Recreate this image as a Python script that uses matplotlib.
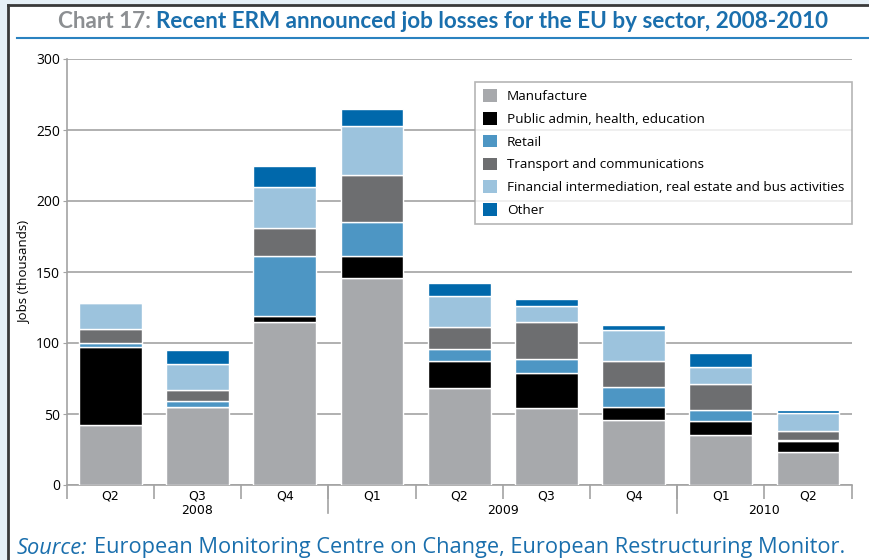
import matplotlib
matplotlib.use("Agg")
import matplotlib.pyplot as plt
import numpy as np
from matplotlib.patches import Rectangle
from matplotlib.lines import Line2D
import matplotlib.transforms as mtransforms

quarters = ["Q2", "Q3", "Q4", "Q1", "Q2", "Q3", "Q4", "Q1", "Q2"]
years = ["2008", "2009", "2010"]
year_centers = [1, 4.5, 7.5]
year_separators = [2.5, 6.5]

sectors = ["Manufacture", "Public admin, health, education", "Retail",
           "Transport and communications",
           "Financial intermediation, real estate and bus activities", "Other"]
manufacture = [42, 55, 115, 146, 68, 54, 46, 35, 23]
public_admin = [55, 0, 4, 15, 19, 25, 9, 10, 8]
retail = [3, 4, 42, 24, 9, 10, 14, 8, 1]
transport = [10, 8, 20, 33, 15, 26, 18, 18, 6]
financial = [18, 18, 29, 35, 22, 11, 22, 12, 13]
other = [0, 10, 15, 12, 9, 5, 4, 10, 1.5]
series = [manufacture, public_admin, retail, transport, financial, other]
colors = ["#a7a9ac", "#000000", "#4d96c4", "#6d6e70", "#9cc3dd", "#0068ab"]

yticks = [0, 50, 100, 150, 200, 250, 300]

W, H = 869, 560
fig = plt.figure(figsize=(W / 100, H / 100), dpi=100)
fig.patch.set_facecolor("#e6f0f7")

# white panel
fig.add_artist(Rectangle((8 / W, 0), 1, 1 - 5 / H, transform=fig.transFigure,
                         facecolor="white", edgecolor="none", zorder=0))
fig.add_artist(Line2D([8 / W, 8 / W], [0, 1 - 5 / H], transform=fig.transFigure,
                      color="#3a3a3a", lw=2))
fig.add_artist(Line2D([8 / W, 1], [1 - 5 / H, 1 - 5 / H], transform=fig.transFigure,
                      color="#3a3a3a", lw=2))
# title underline
fig.add_artist(Line2D([17 / W, 1], [1 - 38 / H, 1 - 38 / H], transform=fig.transFigure,
                      color="#2a82c0", lw=1.5))

tfam = ["Liberation Sans Narrow", "DejaVu Sans"]
title_fam = ["Lato", "DejaVu Sans"]
part1 = "Chart 17: "
part2 = "Recent ERM announced job losses for the EU by sector, 2008-2010"

# fit title width to ~773 px
fs = 17
probe = fig.text(0, 0, part1 + part2, fontsize=fs, fontweight="bold", family=title_fam)
fig.canvas.draw()
w = probe.get_window_extent().width
probe.remove()
fs = fs * 773 / w

t1 = fig.text(58 / W, 1 - 22 / H, part1, color="#8c8f92", fontsize=fs,
              fontweight="bold", family=title_fam, va="center", ha="left")
fig.canvas.draw()
bb = t1.get_window_extent()
fig.text(bb.x1 / W, 1 - 22 / H, part2,
         color="#1a6fad", fontsize=fs, fontweight="bold",
         family=title_fam, va="center", ha="left")

ax = fig.add_axes([66.7 / W, 1 - 485 / H, (851.7 - 66.7) / W, (485 - 59) / H])
x = np.arange(len(quarters))
bottom = np.zeros(len(quarters))
for vals, col, name in zip(series, colors, sectors):
    ax.bar(x, vals, width=0.72, bottom=bottom, color=col, edgecolor="white",
           linewidth=1, label=name, zorder=3)
    bottom += np.array(vals)

ax.set_xlim(-0.5, len(quarters) - 0.5)
ax.set_ylim(0, 300)
ax.set_yticks(yticks)
ax.yaxis.grid(True, color="#a3a3a3", lw=1.2, zorder=0)
for s in ["top", "right"]:
    ax.spines[s].set_visible(False)
ax.spines["left"].set_color("#a3a3a3")
ax.spines["left"].set_linewidth(1.2)
ax.spines["bottom"].set_color("#a3a3a3")
ax.spines["bottom"].set_linewidth(1.2)

lab_fam = ["Open Sans", "DejaVu Sans"]
ax.tick_params(axis="y", length=3, color="#a3a3a3", labelsize=10, pad=2)
for lab in ax.get_yticklabels():
    lab.set_family(lab_fam)

ax.set_xticks(np.arange(-0.5, len(quarters), 1.0))
ax.set_xticklabels([])
ax.tick_params(axis="x", which="major", length=10, color="#a3a3a3", width=1.2)
ax.set_xticks(x, minor=True)
ax.set_xticklabels(quarters, minor=True, fontsize=9, family=tfam)
ax.tick_params(axis="x", which="minor", length=0, pad=3)

trans = mtransforms.blended_transform_factory(ax.transData, ax.transAxes)
for sx in year_separators:
    ax.plot([sx, sx], [0, -28 / 426], transform=trans, color="#a3a3a3", lw=1.2,
            clip_on=False)
for yc, yl in zip(year_centers, years):
    ax.text(yc, -25 / 426, yl, transform=trans, ha="center", va="center",
            fontsize=9, family=tfam)

ax.set_ylabel("Jobs (thousands)", fontsize=9.5, family=lab_fam)
ax.yaxis.set_label_coords((30 - 66.7) / 785, 0.5)

leg = ax.legend(loc="upper right", bbox_to_anchor=(1.0, (485 - 82) / 426),
                borderaxespad=0,
                frameon=True, fancybox=False,
                prop={"family": lab_fam, "size": 9.7},
                handlelength=1.05, handleheight=1.05, handletextpad=0.75,
                labelspacing=0.66, borderpad=0.55)
leg.get_frame().set_edgecolor("#a3a3a3")
leg.get_frame().set_linewidth(1.2)
for h in leg.legend_handles:
    h.set_edgecolor("none")

src_fs = 15.7
src = fig.text(17 / W, 1 - 548 / H, "Source:", color="#1a6fad", fontsize=src_fs,
               style="italic", family=lab_fam, va="center", ha="left")
fig.canvas.draw()
bb = src.get_window_extent()
fig.text(bb.x1 / W + 6 / W, 1 - 548 / H,
         "European Monitoring Centre on Change, European Restructuring Monitor.",
         color="#1a6fad", fontsize=src_fs, family=lab_fam, va="center", ha="left")

fig.savefig("out.png", dpi=100, facecolor=fig.get_facecolor())
